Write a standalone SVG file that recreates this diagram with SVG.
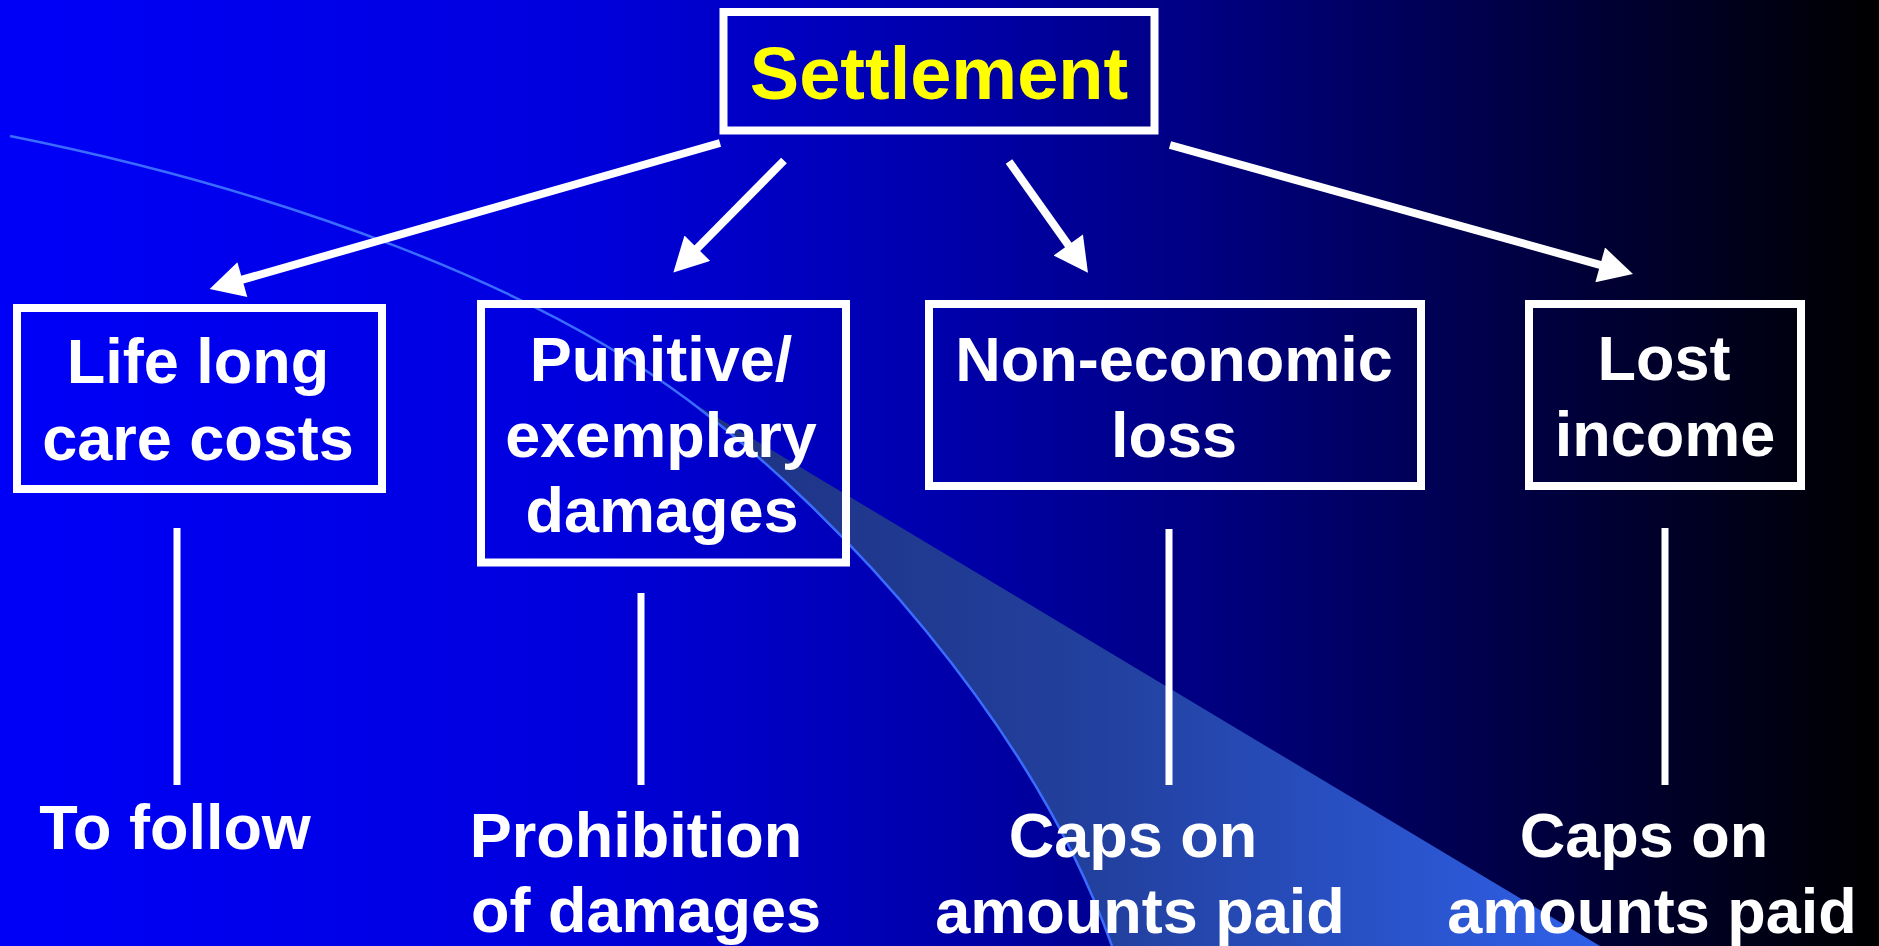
<svg xmlns="http://www.w3.org/2000/svg" width="1879" height="946" viewBox="0 0 1879 946">
  <defs>
    <linearGradient id="bg" x1="0" y1="0" x2="1879" y2="0" gradientUnits="userSpaceOnUse">
      <stop offset="0" stop-color="#0000F8"/>
      <stop offset="0.3" stop-color="#0000DE"/>
      <stop offset="0.5" stop-color="#0000AC"/>
      <stop offset="0.65" stop-color="#00007E"/>
      <stop offset="0.82" stop-color="#000040"/>
      <stop offset="1" stop-color="#000000"/>
    </linearGradient>
    <linearGradient id="wedge" x1="690" y1="0" x2="1600" y2="0" gradientUnits="userSpaceOnUse">
      <stop offset="0" stop-color="#1E3282"/>
      <stop offset="0.45" stop-color="#22409E"/>
      <stop offset="1" stop-color="#2F60E8"/>
    </linearGradient>
    <marker id="arrow" markerUnits="userSpaceOnUse" markerWidth="36" markerHeight="36" refX="22" refY="18" orient="auto" viewBox="0 0 34 36">
      <path d="M0,0 L34,18 L0,36 z" fill="#FFFFFF"/>
    </marker>
    <style>
      .box { fill: none; stroke: #FFFFFF; stroke-width: 8; }
      .lbl { font-family: "Liberation Sans", Arial, sans-serif; font-weight: bold; font-size: 63px; fill: #FFFFFF; text-anchor: middle; }
      .title { font-family: "Liberation Sans", Arial, sans-serif; font-weight: bold; font-size: 74px; fill: #FFFF00; text-anchor: middle; }
      .arr { stroke: #FFFFFF; stroke-width: 8; fill: none; marker-end: url(#arrow); }
      .vline { stroke: #FFFFFF; stroke-width: 7; }
    </style>
  </defs>

  <g id="background">
    <rect x="0" y="0" width="1879" height="946" fill="url(#bg)"/>
    <path d="M688,400 L1600,946 L1112,946 C1032,722 838,512.5 688,400 Z" fill="url(#wedge)"/>
    <path d="M10,136 C290,192 538,287.5 688,400 C838,512.5 1032,722 1112,946" fill="none" stroke="#3A6CFF" stroke-width="2.5"/>
  </g>

  <g id="connectors">
    <line class="arr" x1="720" y1="143" x2="221.2" y2="285.7"/>
    <line class="arr" x1="784" y1="160.5" x2="681.8" y2="263.9"/>
    <line class="arr" x1="1009" y1="161.5" x2="1081" y2="262.9"/>
    <line class="arr" x1="1170" y1="145" x2="1621.4" y2="270.8"/>
    <line class="vline" x1="177" y1="528" x2="177" y2="785"/>
    <line class="vline" x1="641" y1="593" x2="641" y2="785"/>
    <line class="vline" x1="1169" y1="529" x2="1169" y2="785"/>
    <line class="vline" x1="1665" y1="528" x2="1665" y2="785"/>
  </g>

  <g id="settlement">
    <rect class="box" x="723.5" y="12" width="431" height="118.5"/>
    <text class="title" x="939" y="99">Settlement</text>
  </g>

  <g id="life-long">
    <rect class="box" x="17" y="308" width="365" height="181"/>
    <text class="lbl" x="198" y="383">Life long</text>
    <text class="lbl" x="198" y="460">care costs</text>
  </g>

  <g id="punitive">
    <rect class="box" x="481" y="304" width="365" height="258.5"/>
    <text class="lbl" x="661" y="381">Punitive/</text>
    <text class="lbl" x="661" y="457">exemplary</text>
    <text class="lbl" x="662" y="532">damages</text>
  </g>

  <g id="non-economic">
    <rect class="box" x="929" y="304" width="492" height="182"/>
    <text class="lbl" x="1174" y="381">Non-economic</text>
    <text class="lbl" x="1174" y="457">loss</text>
  </g>

  <g id="lost-income">
    <rect class="box" x="1529" y="304" width="272" height="182"/>
    <text class="lbl" x="1664" y="380">Lost</text>
    <text class="lbl" x="1665" y="456">income</text>
  </g>

  <g id="to-follow">
    <text class="lbl" x="175" y="849">To follow</text>
  </g>

  <g id="prohibition">
    <text class="lbl" x="636" y="857">Prohibition</text>
    <text class="lbl" x="646" y="932">of damages</text>
  </g>

  <g id="caps-non-economic">
    <text class="lbl" x="1133" y="857">Caps on</text>
    <text class="lbl" x="1140" y="933">amounts paid</text>
  </g>

  <g id="caps-lost-income">
    <text class="lbl" x="1644" y="857">Caps on</text>
    <text class="lbl" x="1652" y="933">amounts paid</text>
  </g>
</svg>
